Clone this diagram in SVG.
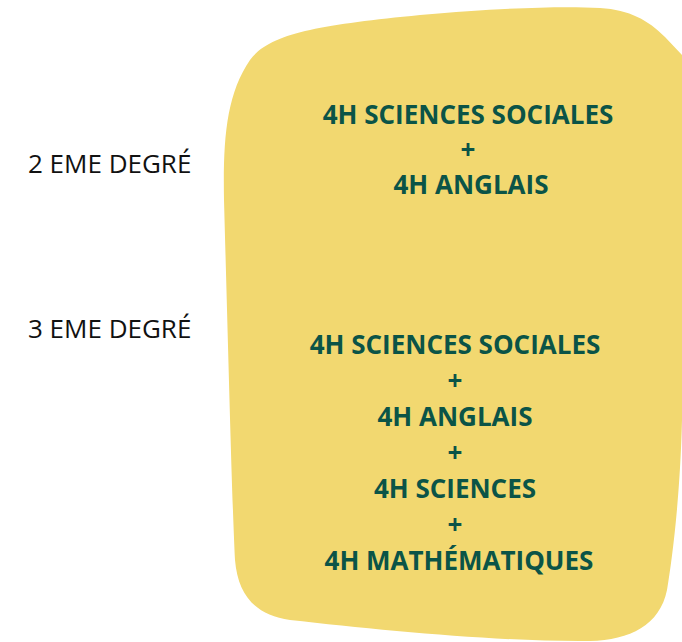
<svg xmlns="http://www.w3.org/2000/svg" width="682" height="642" viewBox="0 0 682 642">
<style>
.lbl{font-family:"Open Sans","Liberation Sans",sans-serif;font-size:26px;fill:#111;}
.sub{font-family:"Open Sans","Liberation Sans",sans-serif;font-size:26px;font-weight:bold;fill:#0b5447;text-anchor:middle;}
</style>
<rect width="682" height="642" fill="#fff"/>
<g id="blob">
<path d="M 224 200 C 223 140, 226 95, 250 60 C 270 33, 320 25, 420 15 C 500 8, 560 6, 600 8 C 630 10, 648 20, 665 37 L 682 55 L 682 420 C 680 500, 672 560, 667 590 C 660 625, 630 640, 590 641 C 500 642, 380 630, 290 620 C 255 615, 238 595, 235 560 C 232 500, 229 380, 224 200 Z" fill="#f2d870"/>
</g>
<g id="label-2">
<text class="lbl" x="28" y="173">2 EME DEGRÉ</text>
</g>
<g id="label-3">
<text class="lbl" x="28" y="338">3 EME DEGRÉ</text>
</g>
<g id="block-2">
<text class="sub" x="468" y="124">4H SCIENCES SOCIALES</text>
<text class="sub" x="468" y="159">+</text>
<text class="sub" x="471" y="194">4H ANGLAIS</text>
</g>
<g id="block-3">
<text class="sub" x="455" y="354">4H SCIENCES SOCIALES</text>
<text class="sub" x="455" y="390">+</text>
<text class="sub" x="455" y="426">4H ANGLAIS</text>
<text class="sub" x="455" y="462">+</text>
<text class="sub" x="455" y="498">4H SCIENCES</text>
<text class="sub" x="455" y="534">+</text>
<text class="sub" x="459" y="570">4H MATHÉMATIQUES</text>
</g>
<g id="connectors"></g>
</svg>
